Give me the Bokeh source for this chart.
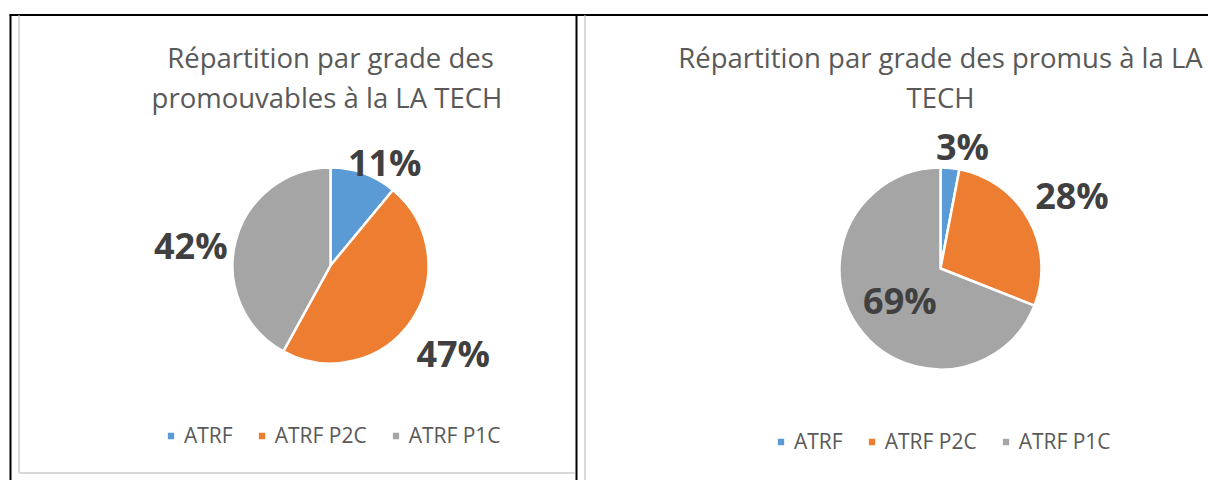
import math
from bokeh.plotting import figure
from bokeh.models import Range1d, ColumnDataSource, Legend, LegendItem
from bokeh.core.properties import value
from bokeh.embed import file_html
from bokeh.resources import INLINE

# ---------------- data ----------------
categories = ["ATRF", "ATRF P2C", "ATRF P1C"]
promouvables = [11, 47, 42]          # % of promotable agents per grade
promus = [3, 28, 69]                 # % of promoted agents per grade
title_promouvables = ["Répartition par grade des", "promouvables à la LA  TECH"]
title_promus = ["Répartition par grade des promus à la LA", "TECH"]

# ---------------- style ----------------
colors = ["#5B9BD5", "#ED7D31", "#A5A5A5"]
FONT = "Open Sans"
TITLE_COLOR = "#595959"
LABEL_COLOR = "#404040"
W, H = 1208, 480

p = figure(width=W, height=H, x_range=Range1d(0, W), y_range=Range1d(0, H),
           output_backend="svg", toolbar_location=None, min_border=0,
           x_axis_location=None, y_axis_location=None, outline_line_color=None)
p.grid.visible = False
p.background_fill_color = "white"
p.border_fill_color = "white"

# table rules (black) and chart frames (light grey)
p.segment(x0=[9, 10, 576], y0=[H - 14.5, H - 14, H - 14],
          x1=[W, 10, 576], y1=[H - 14.5, 0, 0],
          line_color="black", line_width=2)
p.segment(x0=[18.5, 18.5, 584.5], y0=[H - 15, H - 472.5, H - 15],
          x1=[18.5, 574, 584.5], y1=[H - 472.5, H - 472.5, 0],
          line_color="#D9D9D9", line_width=2)


def draw_chart(vals, title_lines, cx, cy_img, radius, dist, tweak_deg, legend_xy):
    cy = H - cy_img
    total = float(sum(vals))
    cum = 0.0
    starts, ends, lx, ly, texts = [], [], [], [], []
    for v, d, t in zip(vals, dist, tweak_deg):
        f0 = cum / total
        f1 = (cum + v) / total
        cum += v
        starts.append(math.pi / 2 - 2 * math.pi * f0)
        ends.append(math.pi / 2 - 2 * math.pi * f1)
        mid = 2 * math.pi * (f0 + f1) / 2 + math.radians(t)
        lx.append(cx + d * radius * math.sin(mid))
        ly.append(cy + d * radius * math.cos(mid))
        texts.append(f"{round(v)}%")
    src = ColumnDataSource(dict(start=starts, end=ends, color=colors, cat=categories))
    r = p.wedge(x=cx, y=cy, radius=radius, start_angle="start", end_angle="end",
                direction="clock", fill_color="color", line_color="white",
                line_width=2.5, source=src)
    p.text(x=lx, y=ly, text=texts, text_font=value(FONT), text_font_style="bold",
           text_font_size="36px", text_color=LABEL_COLOR,
           text_align="center", text_baseline="middle")
    # title
    p.text(x=[cx, cx], y=[H - 57, H - 97], text=title_lines, text_font=value(FONT),
           text_font_size="27.5px", text_color=TITLE_COLOR,
           text_align="center", text_baseline="middle")
    items = [LegendItem(label=c, renderers=[r], index=i) for i, c in enumerate(categories)]
    leg = Legend(items=items, orientation="horizontal", location=legend_xy,
                 padding=0, margin=0, spacing=23, label_standoff=8,
                 glyph_width=11, glyph_height=11, label_height=20,
                 label_text_font=FONT, label_text_font_size="21px",
                 label_text_color=TITLE_COLOR, border_line_color=None,
                 background_fill_alpha=0)
    p.add_layout(leg, "center")


draw_chart(promouvables, title_promouvables, 330, 265, 98,
           dist=[1.19, 1.54, 1.44], tweak_deg=[7.9, 1.4, -6.3], legend_xy=(165, 31))
draw_chart(promus, title_promus, 940, 268, 101,
           dist=[1.23, 1.49, 0.51], tweak_deg=[4.8, -0.3, -3.8], legend_xy=(775, 25))

open("out.html", "w").write(file_html(p, INLINE))
